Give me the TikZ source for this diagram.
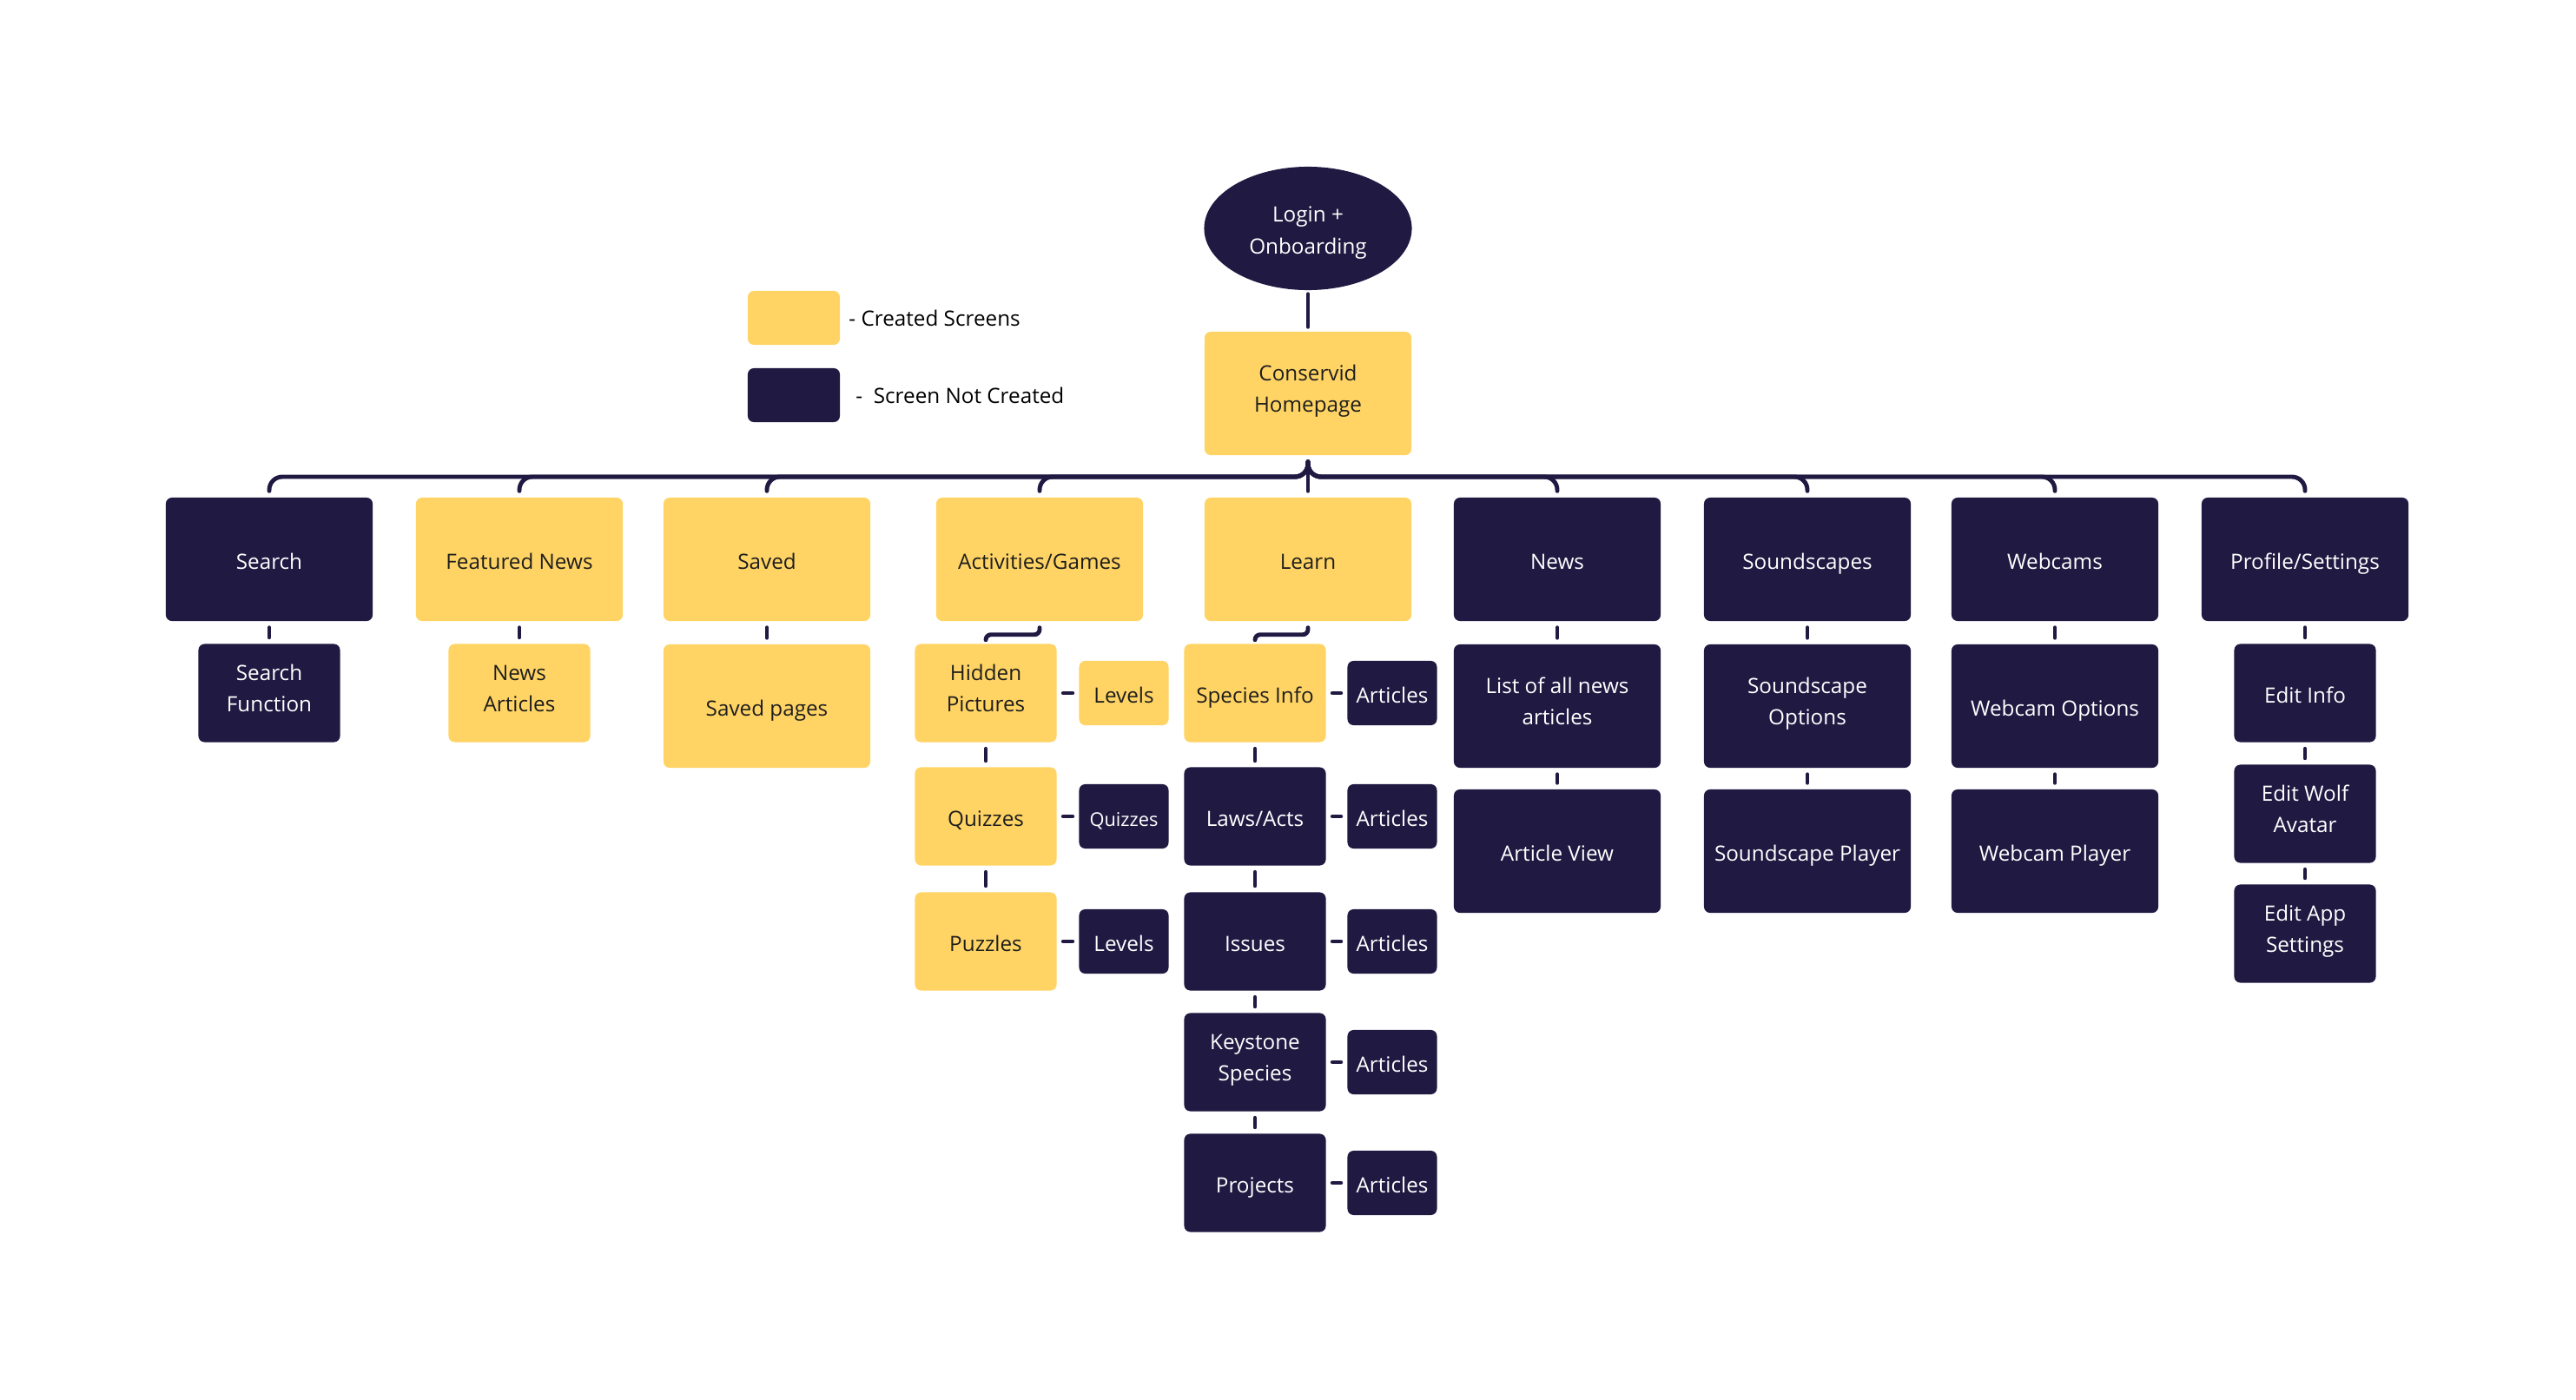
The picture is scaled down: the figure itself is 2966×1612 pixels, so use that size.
\documentclass[tikz,border=0pt]{standalone}
\usepackage{fontspec}
\setmainfont{Open Sans}
\usepackage{tikz}
\usetikzlibrary{shapes.geometric, positioning}
\definecolor{screenyellow}{RGB}{255,212,100}
\definecolor{screennavy}{RGB}{32,25,66}
\definecolor{screenink}{RGB}{30,30,30}
\newcommand{\topstrut}{\rule{0pt}{9.4pt}}
\tikzset{
  made/.style={fill=screenyellow, text=screenink, rounded corners=2pt, align=center, inner sep=0pt,
    execute at begin node=\topstrut, execute at end node=\strut}
}
\tikzset{
  notmade/.style={fill=screennavy, text=white, rounded corners=2pt, align=center, inner sep=0pt,
    execute at begin node=\topstrut, execute at end node=\strut}
}
\tikzset{
  bigbox/.style={minimum width=2.38cm, minimum height=1.42cm},
  midbox/.style={minimum width=1.63cm, minimum height=1.13cm},
  smallbox/.style={minimum width=1.03cm, minimum height=0.74cm}
}
\tikzset{
  link/.style={draw=screennavy, line width=1.4pt, line cap=round, shorten <=0.07cm, shorten >=0.07cm}
}

\begin{document}
\begin{tikzpicture}[x=0.01cm, y=-0.01cm, font=\fontsize{6.9}{10.3}\selectfont]
      \useasboundingbox (0,0) rectangle (2966,1612);
      % login and homepage
      \node[ellipse, fill=screennavy, text=white, align=center, inner sep=0pt,
        minimum width=2.39cm, minimum height=1.42cm] (login) at (1506,263) {\topstrut Login +\\ Onboarding\strut};
      \node[made, bigbox] (home) at (1506,453) {Conservid\\ Homepage};
      \draw[link, shorten <=0.04cm, shorten >=0.05cm] (login) -- (home);
      % key
      \node[made, minimum width=1.06cm, minimum height=0.62cm] (keymade) at (914,366) {};
      \node[right, inner sep=0pt] (keymadetext) at ([xshift=0.09cm]keymade.east) {- Created Screens};
      \node[notmade, minimum width=1.06cm, minimum height=0.62cm] (keynot) at (914,455) {};
      \node[right, inner sep=0pt] (keynottext) at ([xshift=0.17cm]keynot.east) {-\ \ Screen Not Created};
      % top row of screens
      \node[notmade, bigbox] (search) at (310,644) {Search};
      \node[made, bigbox] (featured) at (598,644) {Featured News};
      \node[made, bigbox] (saved) at (883,644) {Saved};
      \node[made, bigbox] (activities) at (1197,644) {Activities/Games};
      \node[made, bigbox] (learn) at (1506,644) {Learn};
      \node[notmade, bigbox] (news) at (1793,644) {News};
      \node[notmade, bigbox] (sounds) at (2081,644) {Soundscapes};
      \node[notmade, bigbox] (webcams) at (2366,644) {Webcams};
      \node[notmade, bigbox] (profile) at (2654,644) {Profile/Settings};
      % bus from homepage to the top row
      \coordinate (bus) at (1506,549);
      \draw[link, rounded corners=0.15cm] (home.south) |- (bus -| search) -- (search.north);
      \draw[link, rounded corners=0.15cm] (home.south) |- (bus -| featured) -- (featured.north);
      \draw[link, rounded corners=0.15cm] (home.south) |- (bus -| saved) -- (saved.north);
      \draw[link, rounded corners=0.15cm] (home.south) |- (bus -| activities) -- (activities.north);
      \draw[link] (home.south) -- (learn.north);
      \draw[link, rounded corners=0.15cm] (home.south) |- (bus -| news) -- (news.north);
      \draw[link, rounded corners=0.15cm] (home.south) |- (bus -| sounds) -- (sounds.north);
      \draw[link, rounded corners=0.15cm] (home.south) |- (bus -| webcams) -- (webcams.north);
      \draw[link, rounded corners=0.15cm] (home.south) |- (bus -| profile) -- (profile.north);
      % search, featured news, saved
      \node[notmade, midbox] (searchfn) at (310,798) {Search\\ Function};
      \node[made, midbox] (newsart) at (598,798) {News\\ Articles};
      \node[made, bigbox] (savedpages) at (883,813) {Saved pages};
      \draw[link] (search) -- (searchfn);
      \draw[link] (featured) -- (newsart);
      \draw[link] (saved) -- (savedpages);
      % activities and games
      \node[made, midbox] (hidden) at (1135,798) {Hidden\\ Pictures};
      \node[made, smallbox] (hiddenlv) at (1294,798) {Levels};
      \node[made, midbox] (quizzes) at (1135,940) {Quizzes};
      \node[notmade, smallbox, font=\fontsize{6.2}{9.3}\selectfont] (quizset) at (1294,940) {Quizzes};
      \node[made, midbox] (puzzles) at (1135,1084) {Puzzles};
      \node[notmade, smallbox] (puzzlv) at (1294,1084) {Levels};
      \draw[link, shorten >=0.04cm, rounded corners=0.06cm] (activities.south) -- ++(0,15) -| (hidden.north);
      \draw[link] (hidden) -- (quizzes);
      \draw[link] (quizzes) -- (puzzles);
      \draw[link] (hidden) -- (hiddenlv);
      \draw[link] (quizzes) -- (quizset);
      \draw[link] (puzzles) -- (puzzlv);
      % learn
      \node[made, midbox] (species) at (1445,798) {Species Info};
      \node[notmade, smallbox] (speciesart) at (1603,798) {Articles};
      \node[notmade, midbox] (laws) at (1445,940) {Laws/Acts};
      \node[notmade, smallbox] (lawsart) at (1603,940) {Articles};
      \node[notmade, midbox] (issues) at (1445,1084) {Issues};
      \node[notmade, smallbox] (issuesart) at (1603,1084) {Articles};
      \node[notmade, midbox] (keystone) at (1445,1223) {Keystone\\ Species};
      \node[notmade, smallbox] (keystoneart) at (1603,1223) {Articles};
      \node[notmade, midbox] (projects) at (1445,1362) {Projects};
      \node[notmade, smallbox] (projectsart) at (1603,1362) {Articles};
      \draw[link, shorten >=0.04cm, rounded corners=0.06cm] (learn.south) -- ++(0,15) -| (species.north);
      \draw[link] (species) -- (laws);
      \draw[link] (laws) -- (issues);
      \draw[link] (issues) -- (keystone);
      \draw[link] (keystone) -- (projects);
      \draw[link] (species) -- (speciesart);
      \draw[link] (laws) -- (lawsart);
      \draw[link] (issues) -- (issuesart);
      \draw[link] (keystone) -- (keystoneart);
      \draw[link] (projects) -- (projectsart);
      % news, soundscapes, webcams
      \node[notmade, bigbox] (newslist) at (1793,813) {List of all news\\ articles};
      \node[notmade, bigbox] (newsview) at (1793,980) {Article View};
      \node[notmade, bigbox] (soundopt) at (2081,813) {Soundscape\\ Options};
      \node[notmade, bigbox] (soundplay) at (2081,980) {Soundscape Player};
      \node[notmade, bigbox] (camopt) at (2366,813) {Webcam Options};
      \node[notmade, bigbox] (camplay) at (2366,980) {Webcam Player};
      \draw[link] (news) -- (newslist);
      \draw[link] (newslist) -- (newsview);
      \draw[link] (sounds) -- (soundopt);
      \draw[link] (soundopt) -- (soundplay);
      \draw[link] (webcams) -- (camopt);
      \draw[link] (camopt) -- (camplay);
      % profile and settings
      \node[notmade, midbox] (editinfo) at (2654,798) {Edit Info};
      \node[notmade, midbox] (editwolf) at (2654,937) {Edit Wolf\\ Avatar};
      \node[notmade, midbox] (editapp) at (2654,1075) {Edit App\\ Settings};
      \draw[link] (profile) -- (editinfo);
      \draw[link] (editinfo) -- (editwolf);
      \draw[link] (editwolf) -- (editapp);
    \end{tikzpicture}
\end{document}
